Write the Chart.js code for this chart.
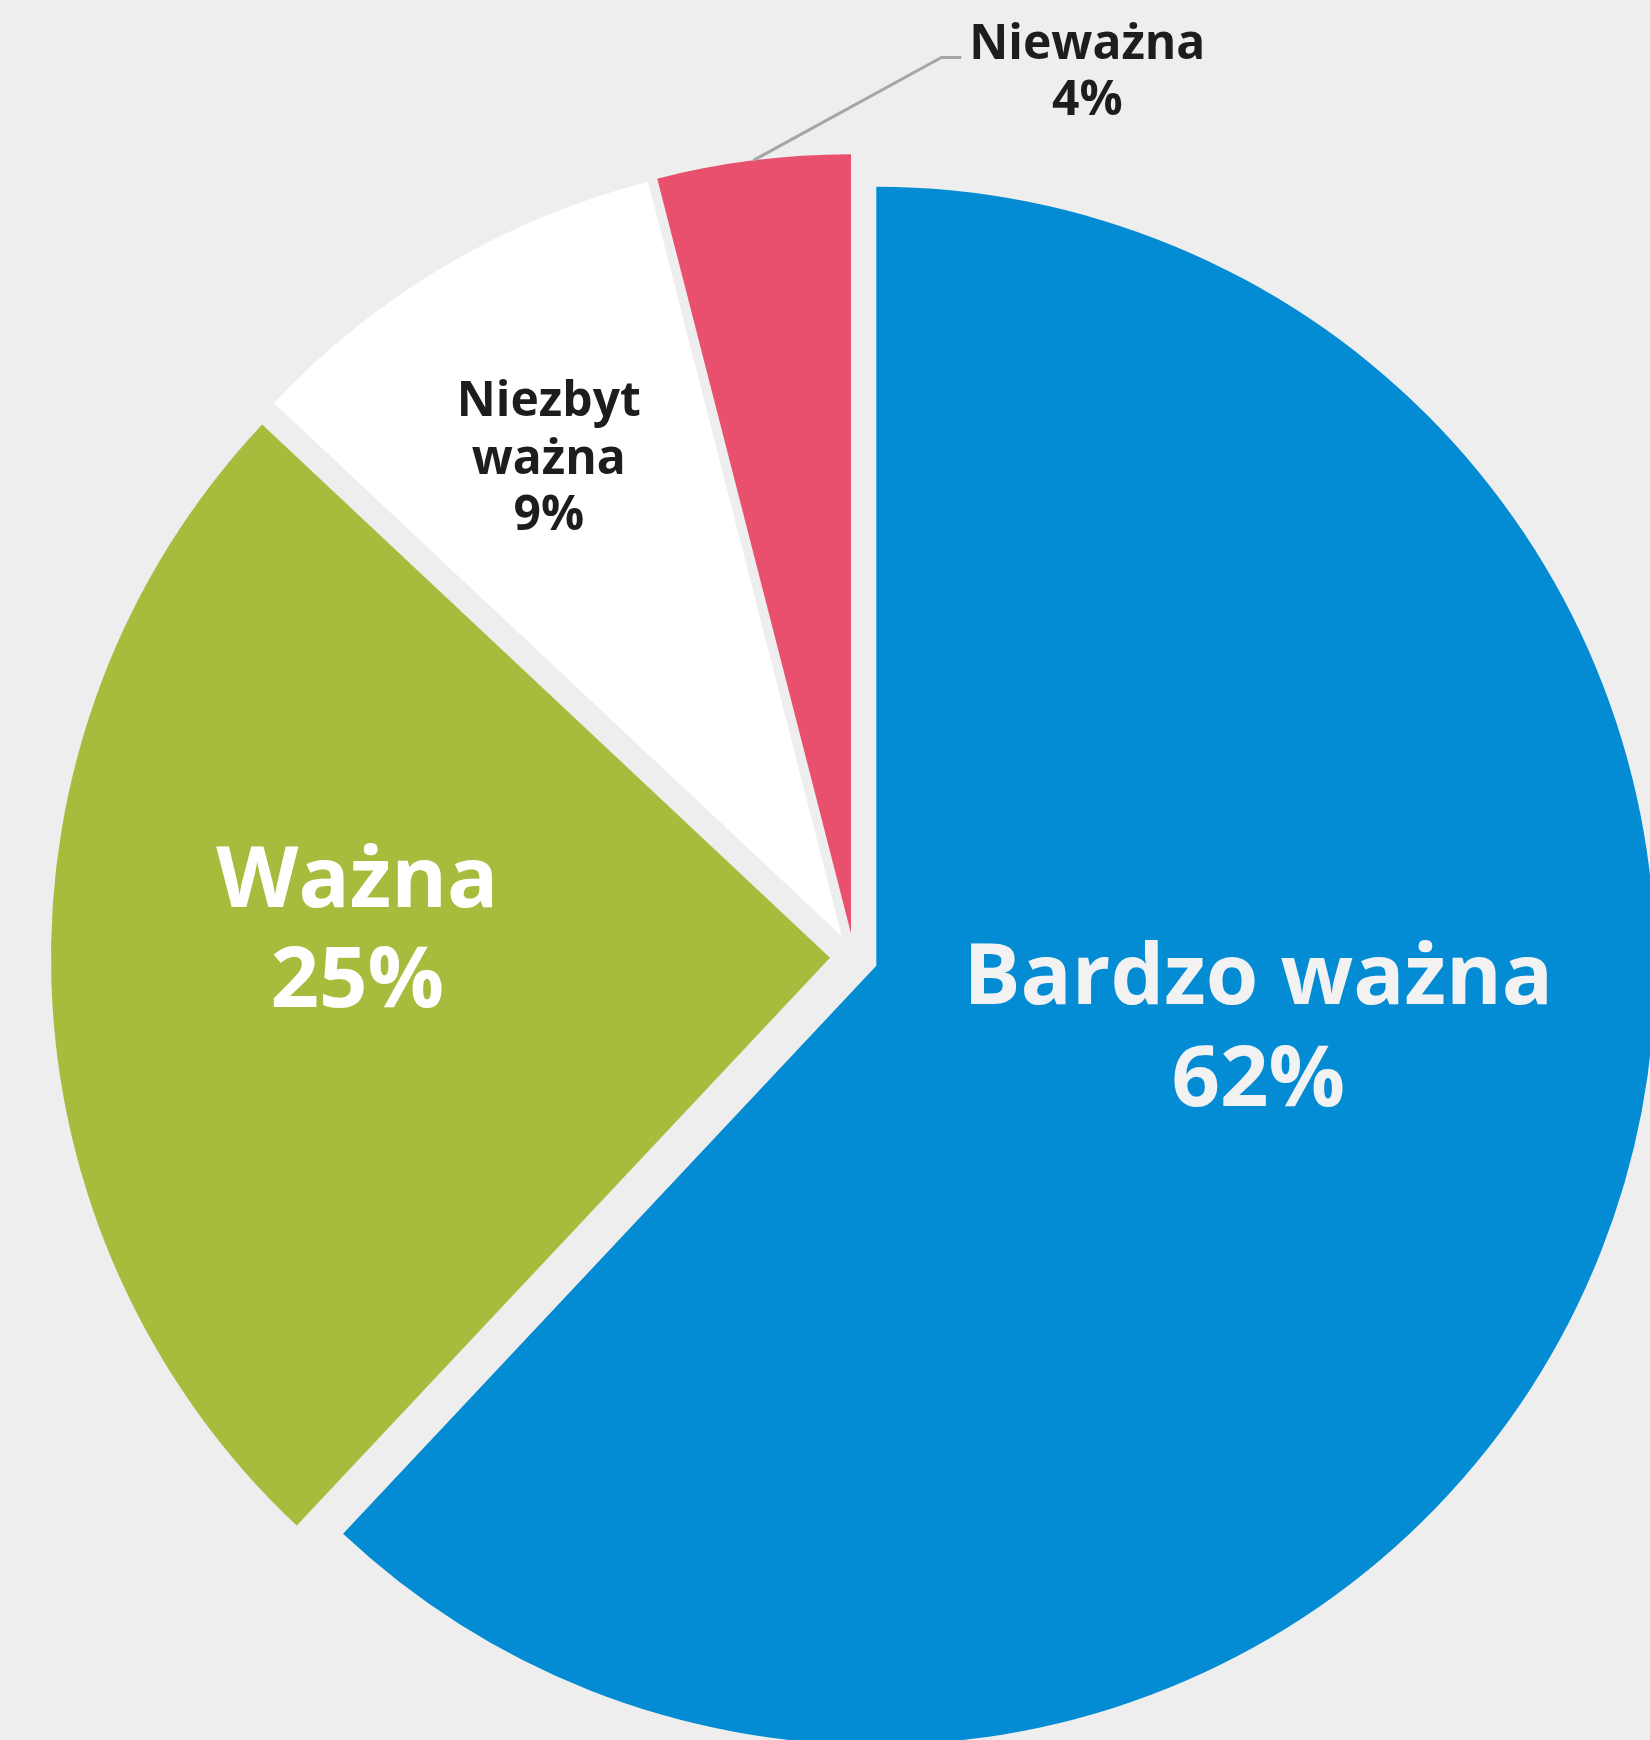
<!DOCTYPE html>
<html lang="pl">
<head>
<meta charset="utf-8">
<title>Ważność</title>
<script src="https://cdn.jsdelivr.net/npm/chart.js@4.4.1/dist/chart.umd.min.js"></script>
<style>
  html, body { margin: 0; padding: 0; background: #eeeeee; overflow: hidden; }
  #wrap { position: absolute; left: 0; top: 0; width: 1708px; height: 1914px; }
</style>
</head>
<body>
<div id="wrap"><canvas id="pie" width="1708" height="1914"></canvas></div>
<script>
// dane
const labels = ['Bardzo ważna', 'Ważna', 'Niezbyt ważna', 'Nieważna'];
const values = [62, 25, 9, 4];
const colors = ['#038bd3', '#a8bb3c', '#ffffff', '#e8506d'];

const RADIUS = 779;   // promień koła (px)
const EXPLODE = 24;   // wysunięcie wycinków (px)
const fontFamily = '"Open Sans", "Noto Sans", sans-serif';

// położenie etykiet w jednostkach promienia, względem środka koła
const labelLayout = [
  { x: 0.519, y: [0.060, 0.191], size: 85, color: '#f2f2f2', wrap: false },
  { x: -0.6376, y: [-0.0637, 0.0646], size: 85, color: '#ffffff', wrap: false },
  { x: -0.3918, y: [-0.6947, -0.6203, -0.5484], size: 48, color: '#1d1d1b', wrap: true },
  { x: 0.2995, y: [-1.1533, -1.081], size: 48, color: '#1d1d1b', wrap: false,
    leader: [[0.1122, -1.1547], [0.1379, -1.1547]] },
];

// Chart.js (v4) powiększa promień wysuniętego wycinka o offset*fix i lekko go zwęża —
// tu to cofamy, żeby wycinki były zwykłym "rozsuniętym" kołem
const evenRadius = {
  id: 'evenRadius',
  afterDatasetUpdate(chart, args) {
    args.meta.data.forEach((el) => {
      const fix = 1 - Math.sin(Math.min(Math.PI, el.circumference || 0));
      const o = EXPLODE * fix;
      const trim = o / (2 * Math.PI * RADIUS);
      el.outerRadius = RADIUS - o;
      el.startAngle -= trim;
      el.endAngle += trim;
    });
  },
};

const sliceLabels = {
  id: 'sliceLabels',
  afterDatasetsDraw(chart) {
    const meta = chart.getDatasetMeta(0);
    const ctx = chart.ctx;
    const cx = meta.data[0].x, cy = meta.data[0].y;
    ctx.save();
    ctx.textAlign = 'center';
    ctx.textBaseline = 'alphabetic';
    labelLayout.forEach((l, i) => {
      const words = l.wrap ? labels[i].split(' ') : [labels[i]];
      const lines = [...words, values[i] + '%'];
      ctx.font = `700 ${l.size}px ${fontFamily}`;
      ctx.fillStyle = l.color;
      lines.forEach((t, k) => ctx.fillText(t, cx + l.x * RADIUS, cy + l.y[k] * RADIUS));
      if (l.leader) {
        const el = meta.data[i];
        const mid = (el.startAngle + el.endAngle) / 2;
        ctx.beginPath();
        ctx.moveTo(cx + Math.cos(mid) * (RADIUS + EXPLODE), cy + Math.sin(mid) * (RADIUS + EXPLODE));
        l.leader.forEach(([px, py]) => ctx.lineTo(cx + px * RADIUS, cy + py * RADIUS));
        ctx.strokeStyle = '#a6a6a6';
        ctx.lineWidth = 3;
        ctx.stroke();
      }
    });
    ctx.restore();
  },
};

function draw() {
  new Chart(document.getElementById('pie'), {
    type: 'pie',
    data: { labels, datasets: [{ data: values, backgroundColor: colors,
      borderWidth: 0, offset: EXPLODE * 4, hoverOffset: EXPLODE * 4 }] },
    options: {
      responsive: false, animation: false, radius: RADIUS,
      layout: { padding: 0 },
      events: [],
      plugins: { legend: { display: false }, tooltip: { enabled: false } },
    },
    plugins: [evenRadius, sliceLabels],
  });
}

Promise.all([
  document.fonts.load(`700 85px ${fontFamily}`),
  document.fonts.load(`700 48px ${fontFamily}`),
]).catch(() => {}).then(draw);
</script>
</body>
</html>
